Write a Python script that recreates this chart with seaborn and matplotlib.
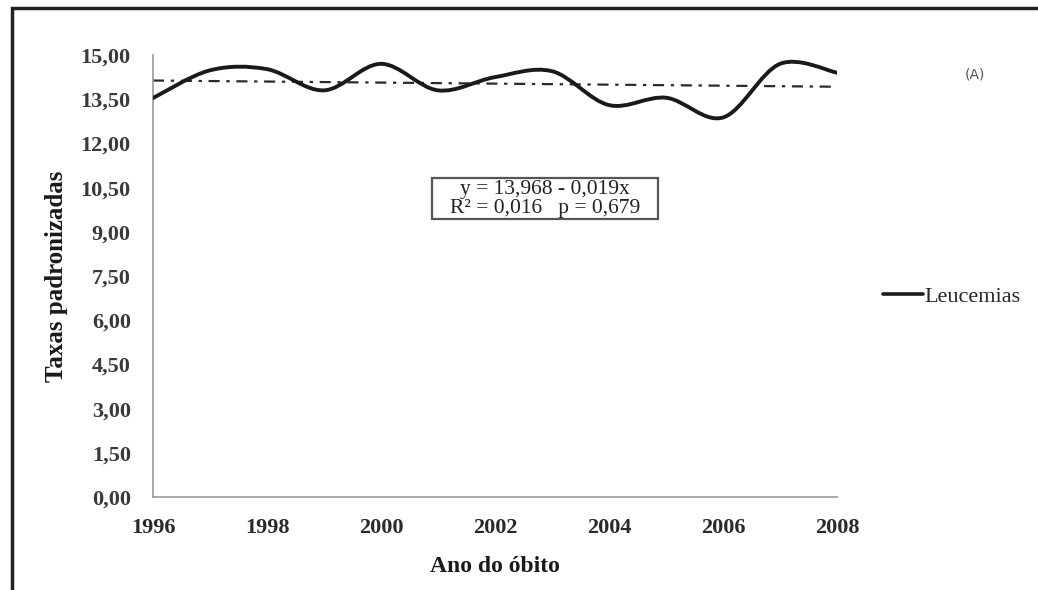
import matplotlib
matplotlib.use("Agg")
import matplotlib.pyplot as plt
import seaborn as sns
import numpy as np
from matplotlib.path import Path
from matplotlib.patches import PathPatch, Rectangle
from matplotlib.lines import Line2D

# Dados
anos = [1996, 1997, 1998, 1999, 2000, 2001, 2002, 2003, 2004, 2005, 2006, 2007, 2008]
taxas = [13.54, 14.48, 14.52, 13.80, 14.70, 13.80, 14.25, 14.45, 13.30, 13.55, 12.88, 14.70, 14.40]

y_ticks = [0, 1.5, 3, 4.5, 6, 7.5, 9, 10.5, 12, 13.5, 15]
y_labels = ["0,00", "1,50", "3,00", "4,50", "6,00", "7,50", "9,00", "10,50", "12,00", "13,50", "15,00"]
x_ticks = [1996, 1998, 2000, 2002, 2004, 2006, 2008]

eq_texto = "y = 13,968 - 0,019x\nR² = 0,016   p = 0,679"

sns.set_theme(style="white")
plt.rcParams["font.family"] = ["Liberation Serif", "DejaVu Serif"]

fig = plt.figure(figsize=(10.38, 5.9), dpi=100)
ax = fig.add_axes([153 / 1038, 93 / 590, 684 / 1038, 442 / 590])


def curva_suave(xs, ys):
    # linha suavizada estilo Excel (Catmull-Rom -> Bezier)
    pts = np.column_stack([xs, ys]).astype(float)
    verts = [pts[0]]
    codes = [Path.MOVETO]
    n = len(pts)
    for i in range(n - 1):
        p0 = pts[i - 1] if i > 0 else pts[i]
        p1 = pts[i]
        p2 = pts[i + 1]
        p3 = pts[i + 2] if i + 2 < n else pts[i + 1]
        c1 = p1 + (p2 - p0) / 6.0
        c2 = p2 - (p3 - p1) / 6.0
        verts += [c1, c2, p2]
        codes += [Path.CURVE4] * 3
    return Path(verts, codes)


ax.add_patch(PathPatch(curva_suave(anos, taxas), facecolor="none",
                       edgecolor="#1a1a1a", lw=2.8, capstyle="round", zorder=3))

# linha de tendência linear
sns.regplot(x=anos, y=taxas, scatter=False, ci=None, ax=ax,
            line_kws={"color": "#2a2a2a", "lw": 1.6, "linestyle": (0, (5, 3, 1.5, 3))})

ax.set_xlim(1996, 2008)
ax.set_ylim(0, 15)
ax.set_xticks(x_ticks)
ax.set_xticklabels([str(a) for a in x_ticks], fontsize=16, color="#2a2a2a", fontweight="bold")
ax.set_yticks(y_ticks)
ax.set_yticklabels(y_labels, fontsize=16, color="#3a3a3a", fontweight="bold")
ax.tick_params(axis="both", length=0)
ax.tick_params(axis="y", pad=16)
ax.tick_params(axis="x", pad=15)

for s in ["top", "right"]:
    ax.spines[s].set_visible(False)
for s in ["left", "bottom"]:
    ax.spines[s].set_color("#9a9a9a")
    ax.spines[s].set_linewidth(1.2)

ax.set_xlabel("Ano do óbito", fontsize=17, fontweight="bold", color="#1a1a1a")
ax.set_ylabel("Taxas padronizadas", fontsize=18, fontweight="bold", color="#1a1a1a")
ax.xaxis.set_label_coords((495 - 153) / 684, (497 - 566) / 442)
ax.yaxis.set_label_coords((57 - 153) / 684, 0.5)
ax.xaxis.label.set_va("center")
ax.yaxis.label.set_va("center")

# caixa da equação
ax.add_patch(Rectangle(((432 - 153) / 684, (497 - 219) / 442), 226 / 684, 41 / 442,
                       transform=ax.transAxes, facecolor="white", edgecolor="#555555",
                       lw=1.6, zorder=4))
ax.text((545 - 153) / 684, (497 - 199) / 442, eq_texto, transform=ax.transAxes,
        ha="center", va="center", fontsize=15.5, color="#222222", linespacing=0.98, zorder=5)

# legenda
fig.legend(handles=[Line2D([], [], color="#1a1a1a", lw=2.6)], labels=["Leucemias"],
           loc="center left", bbox_to_anchor=(872 / 1038, 1 - 297 / 590), frameon=False,
           fontsize=16, handlelength=1.8, handletextpad=0.05, borderpad=0)

fig.text(975 / 1038, 1 - 75 / 590, "(A)", ha="center", va="center", fontsize=10,
         color="#555555", family="DejaVu Sans")

# moldura externa
fig.patches.append(Rectangle((12 / 1038, -0.05), 1.2, 1 - 8 / 590 + 0.05, transform=fig.transFigure,
                             fill=False, edgecolor="#222222", lw=2.5))

fig.savefig("out.png", dpi=100)
